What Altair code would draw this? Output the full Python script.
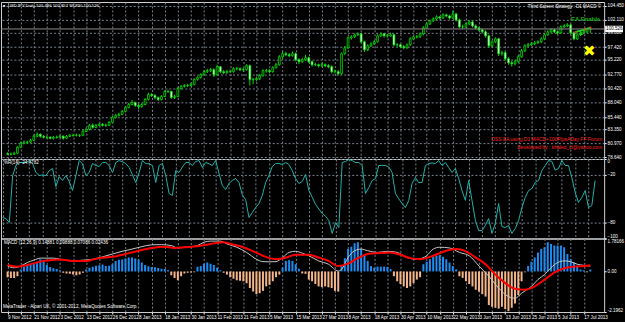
import json
import altair as alt
import pandas as pd

# ---------------- data ----------------
dates = ["9 Nov 2012", "21 Nov 2012", "3 Dec 2012", "13 Dec 2012", "26 Dec 2012",
         "8 Jan 2013", "18 Jan 2013", "30 Jan 2013", "11 Feb 2013", "21 Feb 2013",
         "5 Mar 2013", "15 Mar 2013", "27 Mar 2013", "8 Apr 2013", "18 Apr 2013",
         "30 Apr 2013", "10 May 2013", "22 May 2013", "3 Jun 2013", "13 Jun 2013",
         "25 Jun 2013", "5 Jul 2013", "17 Jul 2013"]

price_ticks = [104.45, 102.11, 99.88, 97.42, 95.22, 92.77, 90.42, 88.04, 85.44, 83.35, 80.97, 78.64]

open0 = 79.20
close = [79.12, 79.12, 79.29, 80.31, 80.99, 81.16, 81.16, 81.50, 82.18, 82.52,
         82.18, 82.01, 82.01, 81.84, 82.01, 82.01, 82.18, 81.84, 82.18, 82.35,
         82.35, 82.35, 82.35, 83.03, 83.37, 84.05, 83.71, 84.05, 84.22, 84.05,
         84.05, 84.56, 85.41, 85.75, 85.92, 86.43, 87.11, 87.62, 87.96, 87.45,
         87.28, 87.62, 88.47, 89.32, 89.15, 88.81, 88.47, 88.98, 89.83, 89.83,
         88.81, 88.98, 90.34, 90.68, 90.85, 90.85, 91.02, 91.87, 92.21, 92.72,
         93.23, 93.40, 93.57, 92.72, 94.08, 93.23, 93.06, 93.23, 93.23, 93.74,
         93.74, 93.57, 93.57, 94.25, 91.87, 91.87, 92.04, 92.55, 93.40, 93.40,
         93.23, 93.91, 94.42, 95.78, 96.29, 96.12, 95.95, 96.29, 95.27, 94.93,
         95.27, 95.61, 94.93, 94.42, 94.42, 94.25, 94.42, 94.25, 94.08, 93.23,
         93.23, 92.89, 96.29, 97.31, 99.01, 99.18, 99.52, 99.69, 98.33, 96.97,
         97.65, 97.99, 98.33, 99.35, 99.69, 99.35, 99.35, 99.52, 97.82, 97.82,
         97.48, 97.31, 97.82, 98.84, 99.18, 99.18, 99.69, 100.71, 101.39, 101.90,
         102.24, 102.58, 102.41, 102.92, 102.75, 102.41, 103.09, 102.07, 100.88, 100.88,
         101.39, 101.73, 101.05, 100.71, 100.37, 100.03, 99.35, 97.65, 98.33, 98.84,
         96.29, 96.46, 95.44, 94.76, 94.59, 94.93, 95.78, 96.80, 97.65, 97.82,
         97.99, 98.16, 98.33, 98.84, 99.52, 100.03, 100.37, 100.03, 99.86, 100.88,
         101.05, 101.22, 99.86, 98.84, 99.52, 99.86, 100.03, 100.49, 100.53]

high = [79.45, 79.40, 79.55, 80.50, 81.20, 81.45, 81.40, 81.75, 82.45, 82.85,
        82.70, 82.40, 82.30, 82.20, 82.25, 82.30, 82.45, 82.35, 82.40, 82.55,
        82.60, 82.65, 82.55, 83.25, 83.70, 84.30, 84.40, 84.30, 84.50, 84.45,
        84.35, 84.80, 85.65, 86.00, 86.20, 86.70, 87.35, 87.90, 88.40, 88.10,
        87.70, 87.85, 88.70, 89.65, 89.55, 89.40, 89.00, 89.20, 90.05, 90.15,
        90.00, 89.30, 90.60, 90.95, 91.10, 91.15, 91.30, 92.10, 92.45, 92.95,
        93.50, 93.70, 93.85, 93.80, 94.40, 94.20, 93.50, 93.55, 93.60, 94.00,
        94.05, 93.95, 93.90, 94.50, 94.45, 92.20, 92.40, 92.85, 93.60, 93.70,
        93.65, 94.15, 94.70, 96.05, 96.70, 96.60, 96.40, 96.70, 96.50, 95.50,
        95.60, 96.10, 95.80, 95.10, 94.75, 94.60, 94.80, 94.65, 94.50, 94.30,
        93.60, 93.50, 96.50, 97.60, 99.25, 99.45, 99.75, 99.95, 99.85, 98.50,
        97.90, 98.25, 98.65, 99.60, 99.95, 99.85, 99.70, 99.90, 99.70, 98.10,
        98.00, 97.75, 98.05, 99.10, 99.40, 99.50, 99.95, 101.00, 101.65, 102.15,
        102.50, 102.85, 102.75, 103.20, 103.15, 102.95, 103.70, 103.30, 102.30, 101.25,
        101.65, 102.00, 101.95, 101.30, 100.95, 100.60, 100.30, 99.55, 98.60, 99.10,
        99.00, 96.80, 96.70, 95.70, 95.05, 95.30, 96.10, 97.10, 97.90, 98.15,
        98.30, 98.45, 98.60, 99.10, 99.80, 100.30, 100.65, 100.60, 100.25, 101.15,
        101.35, 101.50, 101.40, 100.10, 99.80, 100.15, 100.35, 100.75, 100.86]

low = [78.95, 78.90, 79.00, 79.10, 80.15, 80.80, 80.90, 81.00, 81.35, 82.00,
       81.95, 81.80, 81.75, 81.65, 81.65, 81.80, 81.90, 81.60, 81.70, 82.05,
       82.10, 82.15, 82.05, 82.20, 82.90, 83.20, 83.50, 83.55, 83.90, 83.85,
       83.80, 83.95, 84.40, 85.20, 85.55, 85.80, 86.25, 86.95, 87.45, 87.20,
       86.80, 87.05, 87.50, 88.30, 88.90, 88.50, 88.20, 88.30, 88.85, 89.60,
       88.60, 88.55, 88.85, 90.15, 90.50, 90.60, 90.70, 90.90, 91.70, 92.05,
       92.55, 93.00, 93.15, 92.30, 92.55, 92.95, 92.80, 92.85, 93.00, 93.05,
       93.45, 93.30, 93.20, 93.40, 90.85, 91.10, 91.55, 91.80, 92.40, 93.05,
       92.95, 93.05, 93.75, 94.25, 95.55, 95.85, 95.70, 95.80, 95.00, 94.50,
       94.75, 95.10, 94.70, 94.10, 94.15, 93.95, 94.05, 94.00, 93.80, 92.95,
       92.90, 92.60, 92.70, 96.10, 97.10, 98.70, 98.95, 99.30, 98.10, 96.60,
       96.75, 97.45, 97.80, 98.20, 99.15, 99.10, 99.05, 99.20, 97.55, 97.50,
       97.25, 97.05, 97.15, 97.65, 98.65, 98.90, 99.00, 99.45, 100.55, 101.20,
       101.70, 102.05, 102.15, 102.25, 102.50, 102.15, 102.25, 101.80, 100.65, 100.55,
       100.70, 101.20, 100.80, 100.45, 100.10, 99.75, 99.05, 97.30, 97.45, 98.10,
       95.90, 95.95, 95.15, 94.40, 94.10, 94.30, 94.75, 95.60, 96.60, 97.40,
       97.60, 97.75, 97.95, 98.10, 98.65, 99.35, 99.85, 99.80, 99.55, 99.70,
       100.70, 100.85, 99.60, 98.60, 98.65, 99.30, 99.70, 99.85, 99.83]

bid = 100.526

wpr = [-73.6, -75, -80, -20.8, -8, -4.4, -4.4, -4.4, -1.9, -5.7,
       -17, -20.8, -20, -20.8, -14.5, -12, -34.6, -22, -27, -20.8,
       -28.3, -39.6, -20.8, -1.9, -6, -20.8, -17, -5.7, -8.2, -9.4,
       -4.4, -4.4, -8.2, -17, -4.4, -1.9, -3.5, -5.7, -10.7, -20,
       -29.6, -17, -1.9, -5.7, -6, -8.2, -29.6, -8.2, -5.7, -20.8,
       -43.4, -45.9, -14.5, -17, -10, -4.4, -4.4, -8.2, -3.1, -1.9,
       -10.7, -4.4, -6, -8.2, -1.9, -18.2, -33.3, -38.4, -30.8, -27,
       -24.5, -29.6, -45, -51, -73.6, -67.3, -61, -56, -45.9, -29.6,
       -20.8, -9.4, -5.7, -5.7, -6.9, -4.4, -6.9, -14.5, -24.5, -30.8,
       -28.3, -19.5, -39.6, -48, -57, -63, -68.5, -72, -77.4, -93.7,
       -79.9, -86.2, -4.4, -3, -0.6, -2, -4.4, -4.4, -8.2, -43.4,
       -35.8, -27, -24.5, -8.2, -8, -8.2, -10, -17, -43.4, -50,
       -56, -61, -52.2, -30.8, -23.3, -29.6, -29.6, -8.2, -5.7, -5,
       -5.7, -1.9, -8.2, -4.4, -10.7, -17, -12, -24.5, -39.6, -52,
       -27, -52, -77, -90, -90, -83.6, -74.9, -93.7, -81.1, -56,
       -85, -86.2, -83.6, -93.7, -87.4, -77.4, -61, -48.4, -39.6, -37.1,
       -29.6, -27, -14.5, -8.2, -1.9, -3, -14, -12, -1.9, -8.2,
       -8.2, -23.3, -42.1, -54.7, -48.4, -39.6, -61, -58.5, -27]

hist = [-0.31, -0.35, -0.35, -0.26, 0.10, 0.24, 0.33, 0.39, 0.42, 0.53,
        0.66, 0.57, 0.35, 0.24, 0.17, 0.13, 0.07, -0.07, -0.11, -0.13,
        -0.17, -0.20, -0.17, -0.07, 0.11, 0.20, 0.26, 0.31, 0.33, 0.37,
        0.29, 0.31, 0.39, 0.57, 0.63, 0.64, 0.70, 0.75, 0.75, 0.70,
        0.64, 0.48, 0.35, 0.28, 0.24, 0.22, 0.18, 0.15, 0.13, 0.07,
        -0.20, -0.35, -0.48, -0.26, -0.11, -0.07, -0.06, -0.04, 0.26, 0.29,
        0.42, 0.48, 0.42, 0.35, 0.20, 0.07, -0.07, -0.17, -0.31, -0.40,
        -0.48, -0.50, -0.53, -0.64, -0.90, -1.09, -1.23, -1.18, -1.05, -0.81,
        -0.72, -0.53, -0.31, -0.17, 0.20, 0.57, 0.61, 0.57, 0.39, 0.15,
        -0.11, -0.13, -0.44, -0.53, -0.68, -0.81, -0.85, -0.81, -0.86, -0.90,
        -1.05, -1.09, 0.29, 0.72, 1.21, 1.34, 1.53, 1.58, 1.21, 0.90,
        0.57, 0.29, 0.20, 0.26, 0.26, 0.26, 0.24, 0.13, -0.26, -0.53,
        -0.68, -0.81, -0.90, -0.81, -0.63, -0.44, -0.31, 0.39, 0.53, 0.66,
        0.79, 0.85, 0.88, 0.79, 0.66, 0.48, 0.29, 0.11, -0.26, -0.35,
        -0.53, -0.68, -0.81, -0.99, -1.09, -1.23, -1.36, -1.82, -1.91, -1.97,
        -2.01, -1.91, -2.04, -2.15, -1.97, -1.73, -1.27, -0.53, -0.05, 0.29,
        0.53, 0.75, 1.03, 1.21, 1.31, 1.58, 1.49, 1.40, 1.40, 1.40,
        1.31, 0.94, 0.66, 0.48, 0.29, 0.11, 0.06, -0.04, 0.11]

main_bar = [0, 2, 4, 6, 8, 10, 12, 14, 16, 18, 20, 23, 26, 29, 32, 35, 38, 41, 44, 47,
            50, 52, 54, 56, 58, 60, 62, 65, 67, 70, 73, 76, 78, 80, 82, 84, 86, 88, 90, 92,
            95, 98, 101, 102, 104, 106, 108, 110, 113, 116, 119, 122, 125, 128, 130, 132, 135, 138, 141, 144,
            147, 150, 153, 155, 157, 160, 162, 164, 166, 168, 170, 172, 174, 176, 178]
main_val = [0.29, 0.20, 0.29, 0.48, 0.61, 0.72, 0.72, 0.72, 0.66, 0.61, 0.57, 0.61, 0.66, 0.79, 0.94, 1.09, 1.21, 1.34, 1.44, 1.45,
            1.40, 1.27, 1.31, 1.34, 1.40, 1.58, 1.64, 1.64, 1.49, 1.31, 1.03, 0.66, 0.53, 0.52, 0.53, 0.75, 1.03, 1.09, 0.99, 0.85,
            0.57, 0.39, 0.02, 0.11, 0.75, 1.12, 1.21, 1.12, 1.03, 1.09, 1.03, 0.75, 0.66, 0.85, 1.21, 1.31, 1.27, 1.03, 0.85, 0.29,
            -0.26, -0.90, -1.36, -1.45, -1.18, -0.81, -0.44, -0.17, 0.20, 0.48, 0.57, 0.53, 0.39, 0.33, 0.29]

sig_bar = [0, 3, 6, 10, 13, 16, 20, 24, 28, 32, 36, 40, 44, 48, 51, 54, 58, 62, 66, 69,
           72, 75, 78, 80, 82, 85, 88, 92, 95, 98, 101, 104, 107, 110, 113, 117, 120, 123, 126, 130,
           134, 137, 140, 143, 146, 149, 152, 155, 158, 161, 164, 167, 170, 173, 176, 178]
sig_val = [0.35, 0.26, 0.35, 0.53, 0.61, 0.64, 0.57, 0.57, 0.72, 0.79, 0.94, 1.12, 1.27, 1.34, 1.27, 1.31, 1.36, 1.49, 1.58, 1.45,
           1.31, 1.09, 0.85, 0.72, 0.66, 0.75, 0.90, 0.90, 0.75, 0.57, 0.29, 0.42, 0.72, 0.94, 0.99, 1.03, 0.90, 0.72, 0.66, 0.85,
           1.12, 1.21, 1.09, 0.75, 0.39, -0.17, -0.63, -0.94, -0.99, -0.81, -0.44, -0.07, 0.17, 0.26, 0.29, 0.33]

# EA trade markers near the last bars
ea_bar = [173.5, 176.5, 178]
ea_price = [100.0, 100.45, 100.75]

# ---------------- styling ----------------
GRID = "#7a828c"
LIME = "#00e000"
FONT = "Liberation Sans"
FS = 4.6
XDOM = [-0.5, 180.7]
W = 607

n = len(close)
candles = pd.DataFrame({"i": list(range(n)), "open": [open0] + close[:-1],
                        "close": close, "high": high, "low": low})
wpr_df = pd.DataFrame({"i": list(range(n)), "wpr": wpr})
hist_df = pd.DataFrame({"i": list(range(n)), "h": hist})
main_df = pd.DataFrame({"i": main_bar, "v": main_val})
sig_df = pd.DataFrame({"i": sig_bar, "v": sig_val})
ea_df = pd.DataFrame({"i": ea_bar, "p": ea_price})

xscale = alt.Scale(domain=XDOM, nice=False, zero=False)
grid_vals = list(range(0, 180, 4))


def xenc(labels=False):
    if labels:
        ax = alt.Axis(values=grid_vals, grid=True, gridDash=[2, 2], gridColor=GRID,
                      labelExpr="datum.value % 8 == 0 ? " + json.dumps(dates) + "[datum.value / 8] : ''",
                      ticks=True, tickColor="white", tickSize=2, domain=False,
                      labelColor="white", labelFont=FONT, labelFontSize=FS, labelAlign="left",
                      labelPadding=1, labelOverlap=False, labelBound=False, labelFlush=False, title=None)
    else:
        ax = alt.Axis(values=grid_vals, grid=True, gridDash=[2, 2], gridColor=GRID,
                      labels=False, ticks=False, domain=False, title=None)
    return alt.X("i:Q", scale=xscale, axis=ax)


def text(t, x, y, color="white", size=FS, align="left", weight="normal"):
    return alt.Chart(pd.DataFrame({"t": [t]})).mark_text(
        color=color, fontSize=size, font=FONT, align=align, baseline="middle", fontWeight=weight
    ).encode(text="t:N", x=alt.value(x), y=alt.value(y))


# ---------------- price panel ----------------
yprice = alt.Scale(domain=[78.30, 105.13], nice=False, zero=False)
price_axis = alt.Axis(orient="right", values=price_ticks, format=".3f", title=None, grid=True,
                      gridDash=[2, 2], gridColor=GRID, domain=False, ticks=True, tickColor="white",
                      tickSize=2, labelColor="white", labelFont=FONT, labelFontSize=FS, labelPadding=1,
                      labelOverlap=False, labelBound=False)

base = alt.Chart(candles)
wicks = base.mark_rule(color=LIME, strokeWidth=1, clip=True).encode(
    x=xenc(), y=alt.Y("low:Q", scale=yprice, axis=price_axis), y2="high:Q")
bodies = base.mark_bar(size=1.8, stroke=LIME, strokeWidth=0.8, clip=True).encode(
    x=xenc(), y=alt.Y("open:Q", scale=yprice, axis=price_axis), y2="close:Q",
    fill=alt.condition("datum.close > datum.open", alt.value("black"), alt.value("white")))
bid_df = pd.DataFrame({"p": [bid]})
bid_line = alt.Chart(bid_df).mark_rule(color="#8c8c8c", strokeWidth=1).encode(
    y=alt.Y("p:Q", scale=yprice, axis=price_axis))
bid_box = alt.Chart(bid_df).mark_rect(color="white", clip=False).encode(
    x=alt.value(608), x2=alt.value(626),
    y=alt.Y("lo:Q", scale=yprice, axis=price_axis), y2="hi:Q").transform_calculate(
    lo="datum.p - 0.55", hi="datum.p + 0.55")
bid_txt = alt.Chart(bid_df).mark_text(color="black", fontSize=FS, font=FONT, align="left",
                                      baseline="middle").encode(
    x=alt.value(609), y=alt.Y("p:Q", scale=yprice, axis=price_axis), text=alt.Text("p:Q", format=".3f"))
ea_line = alt.Chart(ea_df).mark_line(color="#22c822", strokeWidth=2, clip=True).encode(
    x=xenc(), y=alt.Y("p:Q", scale=yprice, axis=price_axis))
ea_pts = alt.Chart(ea_df).mark_point(shape="circle", size=6, filled=True, color="#ff3030",
                                     clip=True).encode(
    x=xenc(), y=alt.Y("p:Q", scale=yprice, axis=price_axis))

price = alt.layer(
    wicks, bodies, bid_line, ea_line, ea_pts, bid_box, bid_txt,
    text("■", 2, 4, size=3.5),
    text("USDJPY,Daily 100.486 100.857 99.830 100.526", 7, 4, size=4.3),
    text("Third Screen Strategy : D1 MACD ©", 604, 5, align="right"),
    text("EA Enable", 603, 17, color="#10b010", size=6, align="right", weight="bold"),
    text("▲", 581, 31, color="#22c822", size=6),
    text("✖", 586, 49, color="#ffff00", size=15),
    text("DSS EA using D1 MACD+100PipsADay FF Forum", 605, 138, color="#ff2020", size=5, align="right"),
    text("Developed by : khaled_ct@yahoo.com", 605, 146, color="#ff2020", size=5, align="right"),
).properties(width=W, height=158)

# ---------------- WPR panel ----------------
wpr_axis = alt.Axis(orient="right", values=[0, -20, -80, -100], title=None, grid=True, gridDash=[2, 2],
                    gridColor=GRID, domain=False, ticks=True, tickColor="white", tickSize=2,
                    labelColor="white", labelFont=FONT, labelFontSize=FS, labelPadding=1, labelFlush=True,
                    labelOverlap=False)
wpr_line = alt.Chart(wpr_df).mark_line(color="#20b2aa", strokeWidth=1, clip=True).encode(
    x=xenc(), y=alt.Y("wpr:Q", scale=alt.Scale(domain=[-100, 0], nice=False), axis=wpr_axis))
wpr_chart = alt.layer(
    wpr_line,
    text("%R(14) -24.4782", 3, 4),
).properties(width=W, height=80)

# ---------------- MACD panel ----------------
ymacd = alt.Scale(domain=[-2.1962, 1.78166], nice=False, zero=False)
macd_axis = alt.Axis(orient="right", values=[1.78166, 0, -2.1962], title=None, grid=False, domain=False,
                     ticks=True, tickColor="white", tickSize=2, labelColor="white", labelFont=FONT,
                     labelFontSize=FS, labelPadding=1, labelFlush=True, labelOverlap=False,
                     labelExpr="datum.value > 1 ? '1.78166' : (datum.value < -1 ? '-2.1962' : '0.00')")
bars = alt.Chart(hist_df).mark_bar(size=2, clip=True).encode(
    x=xenc(labels=True), y=alt.Y("h:Q", scale=ymacd, axis=macd_axis), y2=alt.datum(0),
    color=alt.condition("datum.h >= 0", alt.value("#1e8cf0"), alt.value("#f5b68a")))
main_line = alt.Chart(main_df).mark_line(color="#c8c8c8", strokeWidth=1, interpolate="monotone",
                                         clip=True).encode(
    x=xenc(labels=True), y=alt.Y("v:Q", scale=ymacd, axis=macd_axis))
sig_line = alt.Chart(sig_df).mark_line(color="#ff0000", strokeWidth=2, interpolate="monotone",
                                       clip=True).encode(
    x=xenc(labels=True), y=alt.Y("v:Q", scale=ymacd, axis=macd_axis))
macd_chart = alt.layer(
    bars, main_line, sig_line,
    text("MACD (12,26,9) 0.14881 0.09888 0.07086 0.02436", 3, 5),
    text("MetaTrader - Alpari UK, © 2001-2012, MetaQuotes Software Corp.", 2, 69),
).properties(width=W, height=74)

chart = alt.vconcat(price, wpr_chart, macd_chart, spacing=0, bounds="flush", padding=0).configure(
    background="black").configure_view(stroke="#d0d0d0", strokeWidth=1).configure_axis(
    labelOverlap=False, labelBound=False)

chart.save("out.html", embed_options={"renderer": "svg", "actions": False})
